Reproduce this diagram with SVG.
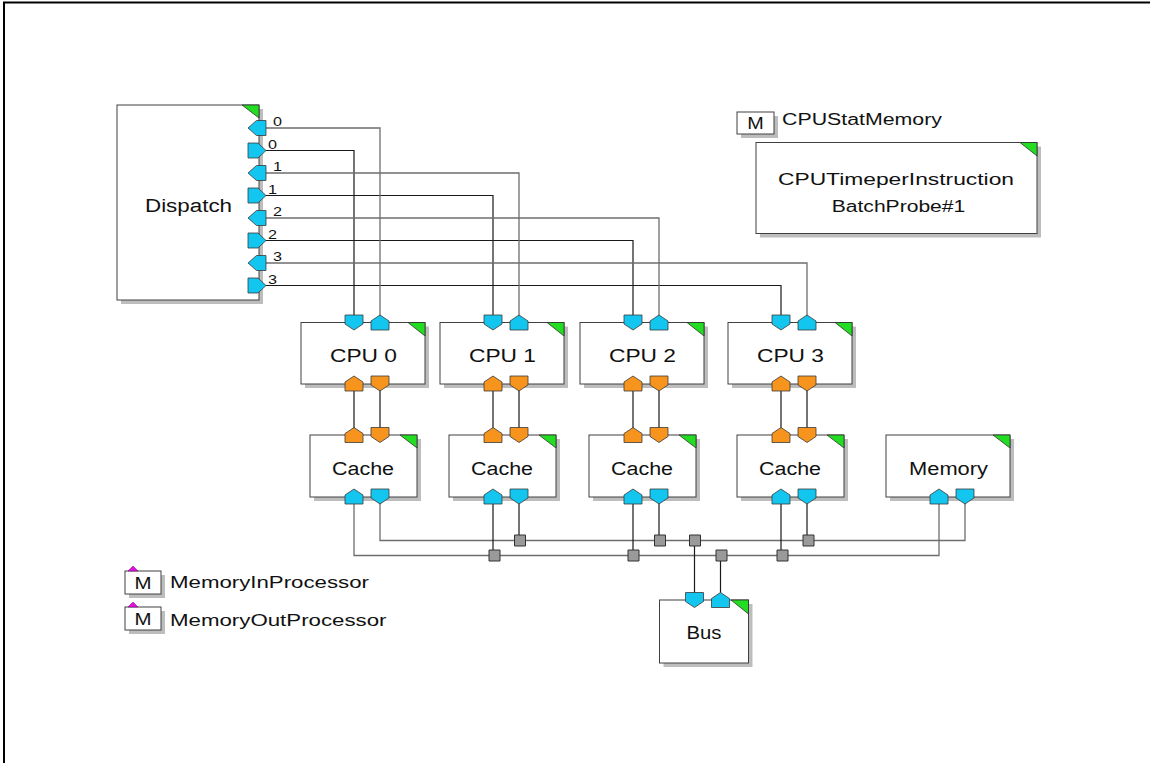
<svg xmlns="http://www.w3.org/2000/svg" xmlns:xlink="http://www.w3.org/1999/xlink" width="1151" height="763" viewBox="0 0 1151 763">
  <style>
    .box { fill: #ffffff; stroke: #404040; stroke-width: 1; }
    .shadow { fill: #bdbdbd; }
    .corner { fill: #22dd22; stroke: #303030; stroke-width: 0.8; }
    .cyan { fill: #12c6f0; stroke: #3a3a3a; stroke-width: 0.8; }
    .orange { fill: #f7941d; stroke: #3a3a3a; stroke-width: 0.8; }
    .mark { fill: #e010e0; stroke: #7a007a; stroke-width: 0.5; }
    .label { font-family: "Liberation Sans", Arial, sans-serif; font-size: 18px; fill: #111111; }
    .small { font-family: "Liberation Sans", Arial, sans-serif; font-size: 16px; fill: #111111; }
    .tiny { font-family: "Liberation Sans", Arial, sans-serif; font-size: 13px; fill: #111111; }
    .wire { fill: none; stroke: #1a1a1a; stroke-width: 1.2; }
    .wire-g { fill: none; stroke: #6e6e6e; stroke-width: 1.3; }
    .joint { fill: #9a9a9a; stroke: #333333; stroke-width: 1; }
  </style>
  <defs>
    <!-- port glyphs, centred on the box edge -->
    <path id="pDown" d="M-9,-7.5H9V1.5L0,7.5L-9,1.5Z"/>
    <path id="pUp" d="M0,-7.5L9,-1.5V7.5H-9V-1.5Z"/>
    <path id="pLeft" d="M-0.5,-7.5H9V7.5H-0.5L-9,0Z"/>
    <path id="pRight" d="M-9,-7.5H1L9,0L1,7.5H-9Z"/>
    <path id="joint" d="M-5.5,-5.5H5.5V5.5H-5.5Z"/>
  </defs>

  <rect x="0" y="0" width="1151" height="763" fill="#ffffff"/>
  <!-- frame -->
  <path d="M4,763V2.5H1150" fill="none" stroke="#000000" stroke-width="2"/>

  <!-- connectors -->
  <g id="connectors">
    <!-- dispatch outputs to cpu inputs -->
    <path class="wire" d="M266,150.5H354V322"/>
    <path class="wire" d="M266,195.5H493V322"/>
    <path class="wire" d="M266,240.5H633V322"/>
    <path class="wire" d="M266,285.5H781V322"/>
    <!-- cpu outputs back to dispatch -->
    <path class="wire-g" d="M380,322V128H266"/>
    <path class="wire-g" d="M519,322V173H266"/>
    <path class="wire-g" d="M659,322V218H266"/>
    <path class="wire-g" d="M807,322V263H266"/>
    <!-- cpu to cache -->
    <path class="wire" d="M354,384V435M380,384V435"/>
    <path class="wire" d="M493,384V435M519,384V435"/>
    <path class="wire" d="M633,384V435M659,384V435"/>
    <path class="wire" d="M781,384V435M807,384V435"/>
    <!-- shared bus lines -->
    <path class="wire-g" d="M380,497V540.5H965V497"/>
    <path class="wire-g" d="M354,497V555.5H939V497"/>
    <path class="wire" d="M519,497V540.5M659,497V540.5M807,497V540.5"/>
    <path class="wire" d="M493,497V555.5M633,497V555.5M781,497V555.5"/>
    <path class="wire" d="M694.5,540.5V600"/>
    <path class="wire" d="M720.5,555.5V600"/>
    <use xlink:href="#joint" class="joint" x="520" y="540.5"/>
    <use xlink:href="#joint" class="joint" x="660" y="540.5"/>
    <use xlink:href="#joint" class="joint" x="695" y="540.5"/>
    <use xlink:href="#joint" class="joint" x="808.5" y="540.5"/>
    <use xlink:href="#joint" class="joint" x="494.5" y="555.5"/>
    <use xlink:href="#joint" class="joint" x="633.5" y="555.5"/>
    <use xlink:href="#joint" class="joint" x="721.5" y="555.5"/>
    <use xlink:href="#joint" class="joint" x="782.5" y="555.5"/>
  </g>

  <!-- Dispatch -->
  <g id="dispatch">
    <rect class="shadow" x="121" y="109" width="142" height="195"/>
    <rect class="box" x="117" y="105" width="142" height="195"/>
    <path class="corner" d="M242,105H259V118Z"/>
    <text class="label" x="145" y="211.5" textLength="87" lengthAdjust="spacingAndGlyphs">Dispatch</text>
    <use xlink:href="#pLeft" class="cyan" x="257" y="128"/>
    <use xlink:href="#pRight" class="cyan" x="257" y="150.5"/>
    <use xlink:href="#pLeft" class="cyan" x="257" y="173"/>
    <use xlink:href="#pRight" class="cyan" x="257" y="195.5"/>
    <use xlink:href="#pLeft" class="cyan" x="257" y="218"/>
    <use xlink:href="#pRight" class="cyan" x="257" y="240.5"/>
    <use xlink:href="#pLeft" class="cyan" x="257" y="263"/>
    <use xlink:href="#pRight" class="cyan" x="257" y="285.5"/>
    <text class="tiny" x="273" y="126" textLength="9" lengthAdjust="spacingAndGlyphs">0</text>
    <text class="tiny" x="268" y="148.5" textLength="9" lengthAdjust="spacingAndGlyphs">0</text>
    <text class="tiny" x="273" y="171" textLength="9" lengthAdjust="spacingAndGlyphs">1</text>
    <text class="tiny" x="268" y="193.5" textLength="9" lengthAdjust="spacingAndGlyphs">1</text>
    <text class="tiny" x="273" y="216" textLength="9" lengthAdjust="spacingAndGlyphs">2</text>
    <text class="tiny" x="268" y="238.5" textLength="9" lengthAdjust="spacingAndGlyphs">2</text>
    <text class="tiny" x="273" y="261" textLength="9" lengthAdjust="spacingAndGlyphs">3</text>
    <text class="tiny" x="268" y="283.5" textLength="9" lengthAdjust="spacingAndGlyphs">3</text>
  </g>

  <!-- CPUs -->
  <g id="cpu0">
    <rect class="shadow" x="305" y="326.5" width="124" height="61.5"/>
    <rect class="box" x="301" y="322.5" width="124" height="61.5"/>
    <path class="corner" d="M408,322.5H425V336Z"/>
    <text class="label" x="363.5" y="361.5" text-anchor="middle" textLength="67" lengthAdjust="spacingAndGlyphs">CPU 0</text>
    <use xlink:href="#pDown" class="cyan" x="354" y="322.5"/>
    <use xlink:href="#pUp" class="cyan" x="380" y="322.5"/>
    <use xlink:href="#pUp" class="orange" x="354" y="383.5"/>
    <use xlink:href="#pDown" class="orange" x="380" y="383.5"/>
  </g>
  <g id="cpu1">
    <rect class="shadow" x="444" y="326.5" width="124" height="61.5"/>
    <rect class="box" x="440" y="322.5" width="124" height="61.5"/>
    <path class="corner" d="M547,322.5H564V336Z"/>
    <text class="label" x="502.5" y="361.5" text-anchor="middle" textLength="67" lengthAdjust="spacingAndGlyphs">CPU 1</text>
    <use xlink:href="#pDown" class="cyan" x="493" y="322.5"/>
    <use xlink:href="#pUp" class="cyan" x="519" y="322.5"/>
    <use xlink:href="#pUp" class="orange" x="493" y="383.5"/>
    <use xlink:href="#pDown" class="orange" x="519" y="383.5"/>
  </g>
  <g id="cpu2">
    <rect class="shadow" x="584" y="326.5" width="124" height="61.5"/>
    <rect class="box" x="580" y="322.5" width="124" height="61.5"/>
    <path class="corner" d="M687,322.5H704V336Z"/>
    <text class="label" x="642.5" y="361.5" text-anchor="middle" textLength="67" lengthAdjust="spacingAndGlyphs">CPU 2</text>
    <use xlink:href="#pDown" class="cyan" x="633" y="322.5"/>
    <use xlink:href="#pUp" class="cyan" x="659" y="322.5"/>
    <use xlink:href="#pUp" class="orange" x="633" y="383.5"/>
    <use xlink:href="#pDown" class="orange" x="659" y="383.5"/>
  </g>
  <g id="cpu3">
    <rect class="shadow" x="732" y="326.5" width="124" height="61.5"/>
    <rect class="box" x="728" y="322.5" width="124" height="61.5"/>
    <path class="corner" d="M835,322.5H852V336Z"/>
    <text class="label" x="790.5" y="361.5" text-anchor="middle" textLength="67" lengthAdjust="spacingAndGlyphs">CPU 3</text>
    <use xlink:href="#pDown" class="cyan" x="781" y="322.5"/>
    <use xlink:href="#pUp" class="cyan" x="807" y="322.5"/>
    <use xlink:href="#pUp" class="orange" x="781" y="383.5"/>
    <use xlink:href="#pDown" class="orange" x="807" y="383.5"/>
  </g>

  <!-- Caches -->
  <g id="cache0">
    <rect class="shadow" x="314" y="439" width="107" height="62"/>
    <rect class="box" x="310" y="435" width="107" height="62"/>
    <path class="corner" d="M400,435H417V448Z"/>
    <text class="label" x="363" y="475" text-anchor="middle" textLength="62" lengthAdjust="spacingAndGlyphs">Cache</text>
    <use xlink:href="#pUp" class="orange" x="354" y="435"/>
    <use xlink:href="#pDown" class="orange" x="380" y="435"/>
    <use xlink:href="#pUp" class="cyan" x="354" y="496.5"/>
    <use xlink:href="#pDown" class="cyan" x="380" y="496.5"/>
  </g>
  <g id="cache1">
    <rect class="shadow" x="453" y="439" width="107" height="62"/>
    <rect class="box" x="449" y="435" width="107" height="62"/>
    <path class="corner" d="M539,435H556V448Z"/>
    <text class="label" x="502" y="475" text-anchor="middle" textLength="62" lengthAdjust="spacingAndGlyphs">Cache</text>
    <use xlink:href="#pUp" class="orange" x="493" y="435"/>
    <use xlink:href="#pDown" class="orange" x="519" y="435"/>
    <use xlink:href="#pUp" class="cyan" x="493" y="496.5"/>
    <use xlink:href="#pDown" class="cyan" x="519" y="496.5"/>
  </g>
  <g id="cache2">
    <rect class="shadow" x="593" y="439" width="107" height="62"/>
    <rect class="box" x="589" y="435" width="107" height="62"/>
    <path class="corner" d="M679,435H696V448Z"/>
    <text class="label" x="642" y="475" text-anchor="middle" textLength="62" lengthAdjust="spacingAndGlyphs">Cache</text>
    <use xlink:href="#pUp" class="orange" x="633" y="435"/>
    <use xlink:href="#pDown" class="orange" x="659" y="435"/>
    <use xlink:href="#pUp" class="cyan" x="633" y="496.5"/>
    <use xlink:href="#pDown" class="cyan" x="659" y="496.5"/>
  </g>
  <g id="cache3">
    <rect class="shadow" x="741" y="439" width="107" height="62"/>
    <rect class="box" x="737" y="435" width="107" height="62"/>
    <path class="corner" d="M827,435H844V448Z"/>
    <text class="label" x="790" y="475" text-anchor="middle" textLength="62" lengthAdjust="spacingAndGlyphs">Cache</text>
    <use xlink:href="#pUp" class="orange" x="781" y="435"/>
    <use xlink:href="#pDown" class="orange" x="807" y="435"/>
    <use xlink:href="#pUp" class="cyan" x="781" y="496.5"/>
    <use xlink:href="#pDown" class="cyan" x="807" y="496.5"/>
  </g>

  <!-- Memory -->
  <g id="memory">
    <rect class="shadow" x="890" y="439" width="124" height="62"/>
    <rect class="box" x="886" y="435" width="124" height="62"/>
    <path class="corner" d="M993,435H1010V448Z"/>
    <text class="label" x="948.5" y="475" text-anchor="middle" textLength="79" lengthAdjust="spacingAndGlyphs">Memory</text>
    <use xlink:href="#pUp" class="cyan" x="939" y="496.5"/>
    <use xlink:href="#pDown" class="cyan" x="965" y="496.5"/>
  </g>

  <!-- Bus -->
  <g id="bus">
    <rect class="shadow" x="663.5" y="604" width="89" height="63"/>
    <rect class="box" x="659.5" y="600" width="89" height="63"/>
    <path class="corner" d="M731,600H748.5V614Z"/>
    <text class="label" x="704" y="639" text-anchor="middle" textLength="35" lengthAdjust="spacingAndGlyphs">Bus</text>
    <use xlink:href="#pDown" class="cyan" x="694.5" y="600"/>
    <use xlink:href="#pUp" class="cyan" x="720.5" y="600"/>
  </g>

  <!-- statistics memory -->
  <g id="cpustatmemory">
    <rect class="shadow" x="741" y="116" width="37" height="22"/>
    <rect class="box" x="737" y="112" width="37" height="22"/>
    <text class="small" x="755.5" y="129" text-anchor="middle" font-size="15" textLength="16.5" lengthAdjust="spacingAndGlyphs">M</text>
    <text class="small" x="782" y="125" textLength="160" lengthAdjust="spacingAndGlyphs">CPUStatMemory</text>
  </g>

  <!-- probe -->
  <g id="probe">
    <rect class="shadow" x="760" y="146.5" width="281" height="91"/>
    <rect class="box" x="756" y="142.5" width="281" height="91"/>
    <path class="corner" d="M1020,142.5H1037V156Z"/>
    <text class="small" x="896" y="185" text-anchor="middle" font-size="17" textLength="236" lengthAdjust="spacingAndGlyphs">CPUTimeperInstruction</text>
    <text class="small" x="898.5" y="211.5" text-anchor="middle" font-size="17" textLength="133.5" lengthAdjust="spacingAndGlyphs">BatchProbe#1</text>
  </g>

  <!-- processor memories -->
  <g id="memoryinprocessor">
    <rect class="shadow" x="129" y="575" width="36" height="23"/>
    <rect class="box" x="125" y="571" width="36" height="23"/>
    <path class="mark" d="M128,571H138L133,566Z"/>
    <text class="small" x="143" y="589" text-anchor="middle" font-size="15" textLength="17" lengthAdjust="spacingAndGlyphs">M</text>
    <text class="small" x="170" y="588" textLength="199" lengthAdjust="spacingAndGlyphs">MemoryInProcessor</text>
  </g>
  <g id="memoryoutprocessor">
    <rect class="shadow" x="129" y="611" width="36" height="23"/>
    <rect class="box" x="125" y="607" width="36" height="23"/>
    <path class="mark" d="M128,607H138L133,602Z"/>
    <text class="small" x="143" y="625" text-anchor="middle" font-size="15" textLength="17" lengthAdjust="spacingAndGlyphs">M</text>
    <text class="small" x="170" y="626" textLength="216.5" lengthAdjust="spacingAndGlyphs">MemoryOutProcessor</text>
  </g>
</svg>
